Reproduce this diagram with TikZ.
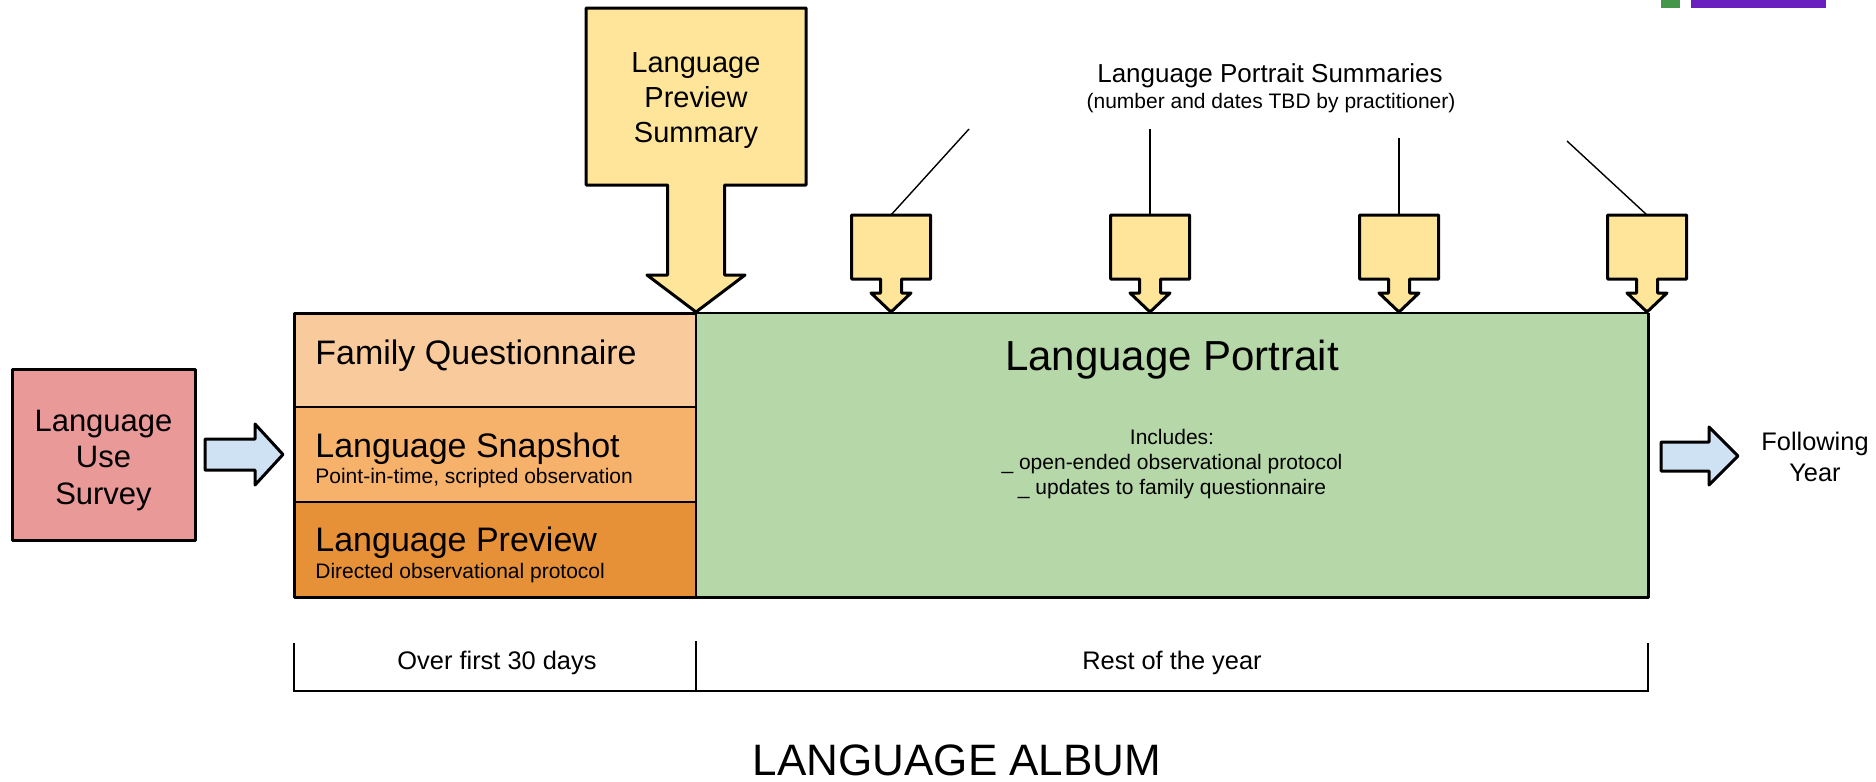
\documentclass[tikz,border=0pt]{standalone}
\usepackage{fontspec}
\setmainfont{Liberation Sans}
\usepackage{tikz}
\usetikzlibrary{positioning, calc}
\usepackage{xcolor}

\definecolor{surveyred}{HTML}{EA9999}
\definecolor{famorange}{HTML}{F9CB9C}
\definecolor{snaporange}{HTML}{F6B26B}
\definecolor{prevorange}{HTML}{E69138}
\definecolor{portraitgreen}{HTML}{B6D7A8}
\definecolor{summaryyellow}{HTML}{FFE599}
\definecolor{arrowblue}{HTML}{CFE2F3}
\definecolor{cornergreen}{HTML}{43964A}
\definecolor{cornerpurple}{HTML}{6A1FBF}

\begin{document}
\begin{tikzpicture}[x=0.5pt, y=-0.5pt,
    thickline/.style={line width=1.5pt, line join=round},
    yellowarrow/.style={thickline, draw=black, fill=summaryyellow},
    bluearrow/.style={thickline, draw=black, fill=arrowblue},
    boxtitle/.style={inner sep=0pt, anchor=west, font=\fontsize{17}{20}\selectfont},
    boxnote/.style={inner sep=0pt, font=\fontsize{10.5}{12.5}\selectfont},
    plaintext/.style={inner sep=0pt, align=center, font=\fontsize{12.7}{15.5}\selectfont}]
    \useasboundingbox (0,0) rectangle (1876,782);

    % Barre in alto
    \fill[cornergreen] (1661,0) rectangle (1680,8);
    \fill[cornerpurple] (1691,0) rectangle (1826,8);

    % Survey
    \node[thickline, draw, fill=surveyred, minimum width=91.5pt, minimum height=85.5pt, inner sep=0pt] (survey) at (103.5,454.5) {};
    \node[inner sep=0pt, align=center, font=\fontsize{15.5}{18.25}\selectfont] (surveytext) at ([yshift=-3pt]survey.center) {Language\\Use\\Survey};
    \draw[bluearrow] (205,439) -- (255,439) -- (255,424) -- (283,454.5) -- (255,485) -- (255,470) -- (205,470) -- cycle;

    % Album
    \fill[famorange] (294,313) rectangle (696,407);
    \fill[snaporange] (294,407) rectangle (696,502);
    \fill[prevorange] (294,502) rectangle (696,597);
    \fill[portraitgreen] (696,313) rectangle (1648,597);
    \draw[line width=1pt] (294,407) -- (696,407) (294,502) -- (696,502) (696,313) -- (696,597);
    \draw[line width=0.8pt] (696,313) -- (1648,313);
    \draw[thickline] (696,313) -- (294,313) -- (294,597) -- (1648,597) -- (1648,313);

    \node[boxtitle] (famq) at (315,356) {Family Questionnaire};
    \node[boxtitle] (snap) at (315,449) {Language Snapshot};
    \node[boxnote, anchor=west] (snapnote) at (315,478) {Point-in-time, scripted observation};
    \node[boxtitle] (prev) at (315,543) {Language Preview};
    \node[boxnote, anchor=west] (prevnote) at (315,573) {Directed observational protocol};

    \node[inner sep=0pt, font=\fontsize{21}{24}\selectfont] (portrait) at (1172,360) {Language Portrait};
    \node[boxnote, align=center] (includes) at (1172,464) {Includes:\\\_ open-ended observational protocol\\\_ updates to family questionnaire};

    % Preview summary
    \draw[yellowarrow] (586,8) -- (806,8) -- (806,185) -- (724.5,185) -- (724.5,275) -- (745,275) -- (696,312) -- (647,275) -- (667.5,275) -- (667.5,185) -- (586,185) -- cycle;
    \node[inner sep=0pt, align=center, font=\fontsize{14.5}{17.5}\selectfont] (prevsum) at (696,101) {Language\\Preview\\Summary};

    % Portrait summaries
    \foreach \i/\x in {1/891, 2/1150, 3/1399, 4/1647} {
        \draw[yellowarrow] ({\x-39.5},215) -- ({\x+39.5},215) -- ({\x+39.5},279) -- ({\x+10.5},279) -- ({\x+10.5},293) -- ({\x+20},293) -- (\x,312) -- ({\x-20},293) -- ({\x-10.5},293) -- ({\x-10.5},279) -- ({\x-39.5},279) -- cycle;
        \coordinate (s\i) at (\x,215);
    }
    \node[inner sep=0pt, font=\fontsize{13}{15}\selectfont] (sumtitle) at (1270,76) {Language Portrait Summaries};
    \node[boxnote] (sumnote) at (1271,103) {(number and dates TBD by practitioner)};
    \coordinate (t1) at (969,129);
    \coordinate (t2) at (1150,129);
    \coordinate (t3) at (1399,138);
    \coordinate (t4) at (1567,141);
    \foreach \i in {1,...,4} \draw[line width=0.7pt] (t\i) -- (s\i);

    % Following year
    \draw[bluearrow] (1661,442) -- (1709,442) -- (1709,427) -- (1738,456) -- (1709,485) -- (1709,471) -- (1661,471) -- cycle;
    \node[plaintext] (follow) at (1815,457) {Following\\Year};

    % Tempi
    \draw[line width=1.2pt] (294,643) -- (294,691) -- (1648,691) -- (1648,643);
    \draw[line width=1.2pt] (696,641) -- (696,691);
    \node[plaintext] (first30) at (497,663) {Over first 30 days};
    \node[plaintext] (rest) at (1172,663) {Rest of the year};
    \node[inner sep=0pt, font=\fontsize{22}{25}\selectfont] (album) at (957,760) {LANGUAGE ALBUM};
\end{tikzpicture}
\end{document}
